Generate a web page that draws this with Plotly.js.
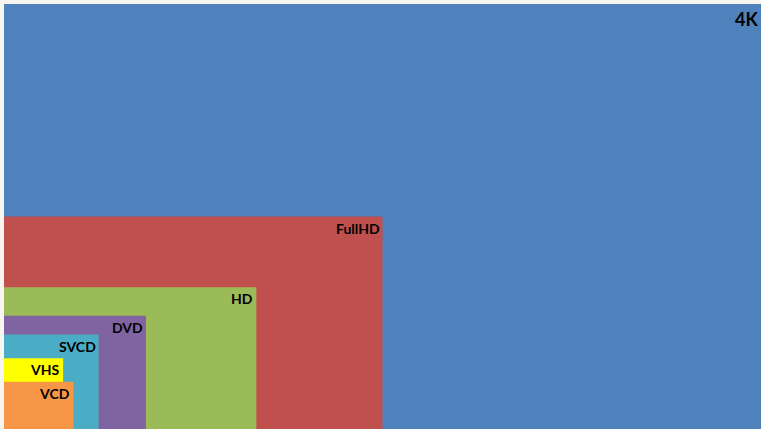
<!DOCTYPE html>
<html>
<head>
<meta charset="utf-8">
<script src="https://cdn.plot.ly/plotly-3.0.1.min.js"></script>
<style>html,body{margin:0;padding:0;background:#F7F5EF;}#chart{width:761px;height:429px;}</style>
</head>
<body>
<div id="chart"></div>
<script>
const names = ["4K", "FullHD", "HD", "DVD", "SVCD", "VHS", "VCD"];
const widths = [3840, 1920, 1280, 720, 480, 300, 352];
const heights = [2160, 1080, 720, 576, 480, 360, 240];
const colors = ["#4F81BD", "#C0504D", "#9BBB59", "#8064A2", "#4BACC6", "#FFFF00", "#F79646"];

const traces = names.map((n, i) => ({
  type: "scatter",
  mode: "lines",
  x: [0, widths[i], widths[i], 0, 0],
  y: [0, 0, heights[i], heights[i], 0],
  fill: "toself",
  fillcolor: colors[i],
  line: {width: 0, color: colors[i]},
  hoverinfo: "skip",
  name: n,
  showlegend: false
}));

const annotations = names.map((n, i) => ({
  x: widths[i], y: heights[i], xref: "x", yref: "y",
  text: "<b>" + n + "</b>",
  showarrow: false,
  xanchor: "right", yanchor: "top",
  xshift: i === 0 ? -1 : -1, yshift: i === 0 ? -2 : -1,
  font: {family: "Lato, 'Open Sans', sans-serif", size: i === 0 ? 18 : 14, color: "#000"}
}));

const layout = {
  width: 761, height: 429,
  margin: {l: 4, r: 0, t: 4, b: 0},
  paper_bgcolor: "#F7F5EF",
  plot_bgcolor: "#F7F5EF",
  xaxis: {range: [0, 3840], visible: false, fixedrange: true},
  yaxis: {range: [0, 2160], visible: false, fixedrange: true},
  annotations: annotations,
  showlegend: false
};

Plotly.newPlot("chart", traces, layout, {displayModeBar: false, staticPlot: true});
</script>
</body>
</html>
